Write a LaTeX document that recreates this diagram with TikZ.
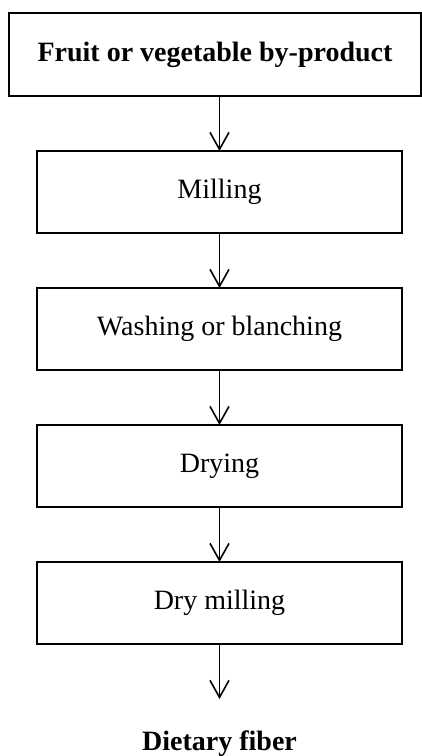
\documentclass[tikz,border=0pt]{standalone}
\usepackage{fontspec}
\setmainfont{Liberation Serif}
\usetikzlibrary{arrows.meta,positioning}

\begin{document}
\begin{tikzpicture}[
x=0.5pt, y=-0.5pt,
node distance=27.5pt,
    X/.style = {rectangle, draw, line width=1pt,% boxes of the steps
                minimum width=182.5pt, minimum height=41pt,
                outer sep=0pt, font=\fontsize{14}{17}\selectfont},
    Y/.style = {X, minimum width=206pt, minimum height=41.5pt,% first box
                font=\fontsize{14}{17}\selectfont\bfseries},
    F/.style = {-{Straight Barb[length=8.5pt,width=9.5pt]}, line width=0.8pt},
                        ]
\useasboundingbox (0,0) rectangle (422,756);
\node[Y] (A-0) at (215,54.5) {Fruit or vegetable by-product};
\node[X] (A-1) at (219.5,192) {Milling};
\foreach \t [count=\i from 2, evaluate=\i as \j using int(\i-1)] in {Washing or blanching, Drying, Dry milling}% <-- content of nodes
    \node[X, below=of A-\j] (A-\i) {\t};
\node[below=of A-4, inner ysep=15.5pt,
      font=\fontsize{14}{17}\selectfont\bfseries] (A-5) {Dietary fiber};
\foreach \i [evaluate=\i as \j using int(\i+1)] in {0,...,4}
    \draw[F] (A-\i.south -| A-1) -- (A-\j.north);
\end{tikzpicture}
\end{document}
